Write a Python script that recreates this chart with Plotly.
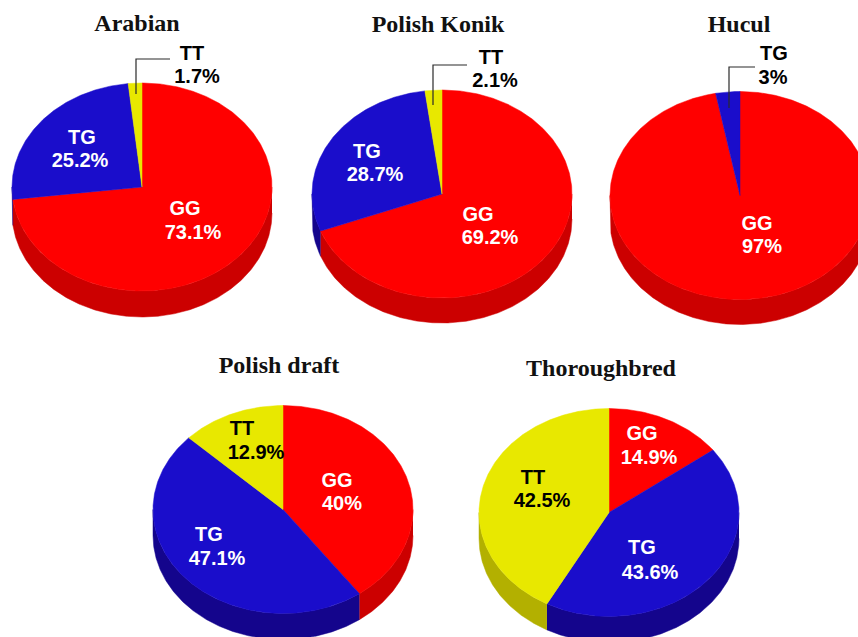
import numpy as np
import plotly.graph_objects as go

# ---- data ----
breeds = ["Arabian", "Polish Konik", "Hucul", "Polish draft", "Thoroughbred"]
arabian_genotypes = ["GG", "TG", "TT"]
arabian_values = [73.1, 25.2, 1.7]
konik_genotypes = ["GG", "TG", "TT"]
konik_values = [69.2, 28.7, 2.1]
hucul_genotypes = ["GG", "TG"]
hucul_values = [97, 3]
draft_genotypes = ["GG", "TG", "TT"]
draft_values = [40, 47.1, 12.9]
thoroughbred_genotypes = ["GG", "TG", "TT"]
thoroughbred_values = [14.9, 43.6, 42.5]

# ---- style / layout (page pixel frame) ----
W, H = 858, 637
TOP = {"GG": "#FF0000", "TG": "#1A0DCB", "TT": "#E8E800"}
SIDE = {"GG": "#CC0000", "TG": "#14058C", "TT": "#B3B000"}
RX, RY = 130, 104
TEXT_DY = 2

pies = [
    dict(name=breeds[0], g=arabian_genotypes, v=arabian_values, c=(142, 187), d=26, t=(137, 23), dark=["TT"],
         pos={"GG": ((185, 208), (193, 232)), "TG": ((82, 137), (80, 160)), "TT": ((192, 53), (197, 76))}),
    dict(name=breeds[1], g=konik_genotypes, v=konik_values, c=(442, 194), d=25, t=(438, 24), dark=["TT"],
         pos={"GG": ((478, 214), (490, 237)), "TG": ((367, 151), (375, 174)), "TT": ((491, 57), (495, 80))}),
    dict(name=breeds[2], g=hucul_genotypes, v=hucul_values, c=(740, 195.5), d=25, t=(739, 24), dark=["TG"],
         pos={"GG": ((757, 223), (762, 246)), "TG": ((774, 53), (773, 77))}),
    dict(name=breeds[3], g=draft_genotypes, v=draft_values, c=(283, 509.5), d=26, t=(279, 365), dark=["TT"],
         pos={"GG": ((337, 480), (342, 503)), "TG": ((209, 534), (217, 558)), "TT": ((242, 428), (256, 452))}),
    dict(name=breeds[4], g=thoroughbred_genotypes, v=thoroughbred_values, c=(609, 512.5), d=26, t=(601, 368), dark=["TT"],
         pos={"GG": ((642, 433), (649, 457)), "TG": ((642, 547), (650, 572)), "TT": ((533, 477), (542, 500))}),
]
# elbow leader lines for the thin slices: (slice end, corner, label end)
leaders = [
    ((136, 94), (136, 59), (170, 59)),
    ((433, 105), (433, 65), (467, 65)),
    ((729, 108), (729, 67), (755, 67)),
]


def arc(cx, cy, a0, a1):
    n = max(2, int(abs(a1 - a0)) * 2 + 2)
    th = np.radians(np.linspace(a0, a1, n))
    return cx + RX * np.sin(th), cy - RY * np.cos(th)


fig = go.Figure()


def poly(x, y, color):
    fig.add_trace(go.Scatter(x=list(x), y=list(y), mode="lines", fill="toself", fillcolor=color,
                             line=dict(color=color, width=0.5), hoverinfo="skip", showlegend=False))


for p in pies:
    cx, cy = p["c"]
    total = sum(p["v"])
    start = 0.0
    # rim first, then the top surface over it
    spans = []
    for g, v in zip(p["g"], p["v"]):
        end = start + 360.0 * v / total
        spans.append((g, start, end))
        start = end
    for g, a0, a1 in spans:
        lo, hi = max(a0, 90), min(a1, 270)
        if hi > lo:
            x, y = arc(cx, cy, lo, hi)
            poly(np.r_[x, x[::-1]], np.r_[y, (y + p["d"])[::-1]], SIDE[g])
    for g, a0, a1 in spans:
        x, y = arc(cx, cy, a0, a1)
        poly(np.r_[cx, x, cx], np.r_[cy, y, cy], TOP[g])

for a, b, c in leaders:
    fig.add_trace(go.Scatter(x=[a[0], b[0], c[0]], y=[a[1], b[1], c[1]], mode="lines",
                             line=dict(color="#2a2a2a", width=1.2), hoverinfo="skip", showlegend=False))

for p in pies:
    fig.add_trace(go.Scatter(x=[p["t"][0]], y=[p["t"][1] + TEXT_DY], mode="text", text=[p["name"]],
                             textposition="middle center", hoverinfo="skip", showlegend=False,
                             textfont=dict(family="Liberation Serif", size=24, color="#111111", weight="bold")))
    for g, v in zip(p["g"], p["v"]):
        (x1, y1), (x2, y2) = p["pos"][g]
        color = "black" if g in p["dark"] else "white"
        fig.add_trace(go.Scatter(x=[x1, x2], y=[y1 + TEXT_DY, y2 + TEXT_DY], mode="text", text=[g, f"{v:g}%"],
                                 textposition="middle center", hoverinfo="skip", showlegend=False,
                                 textfont=dict(family="Liberation Sans", size=20, color=color, weight="bold")))

fig.update_layout(
    width=W, height=H, margin=dict(l=0, r=0, t=0, b=0), paper_bgcolor="white", plot_bgcolor="white",
    xaxis=dict(range=[0, W], visible=False, fixedrange=True),
    yaxis=dict(range=[H, 0], visible=False, fixedrange=True),
    showlegend=False,
)
fig.write_html("out.html", config={"displayModeBar": False},
               post_script="document.body.style.margin='0';document.body.style.overflow='hidden';")
